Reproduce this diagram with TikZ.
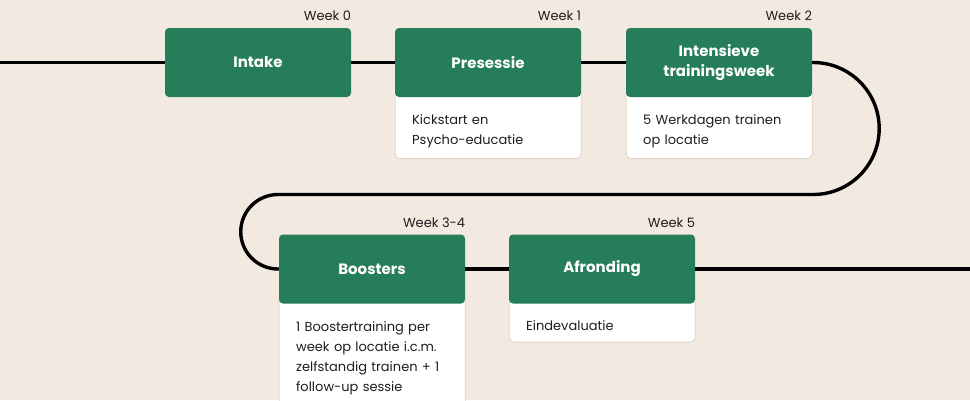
\documentclass[tikz,border=0pt]{standalone}
\usepackage{fontspec}
\setmainfont{Poppins}
\usetikzlibrary{backgrounds}
\definecolor{bg}{HTML}{F2E9E0}
\definecolor{grn}{HTML}{267D5A}
\definecolor{edgec}{HTML}{DDD4CB}
\definecolor{ink}{HTML}{1E1E1E}
\tikzset{
  phase/.style={fill=grn, rounded corners=4pt, minimum width=186pt, minimum height=69pt,
    text=white, font=\bfseries\fontsize{15}{20}\selectfont, align=center, inner sep=0pt},
  detail/.style={fill=white, draw=edgec, line width=0.8pt, rounded corners=5pt, anchor=north west,
    text width=152pt, inner xsep=17pt, inner ysep=0pt, align=left,
    font=\fontsize{13}{20}\selectfont, text=ink},
  week/.style={anchor=base east, font=\fontsize{13}{16}\selectfont, text=ink, inner sep=0pt},
  track/.style={line width=3.4pt, black}
}
\begin{document}
\begin{tikzpicture}[x=1pt, y=-1pt]
\useasboundingbox (0,0) rectangle (970,400);
% phases
\node[phase] (intake) at (258,62.5) {Intake};
\node[phase] (pres)   at (488,62.5) {Presessie};
\node[phase] (int)    at (719,62.5) {Intensieve\\trainingsweek};
\node[phase] (boost)  at (372,269) {Boosters};
\node[phase] (afr)    at (602,269) {Afronding};
% week labels
\node[week] (w0) at ([yshift=7pt]intake.north east) {Week 0};
\node[week] (w1) at ([yshift=7pt]pres.north east) {Week 1};
\node[week] (w2) at ([yshift=7pt]int.north east) {Week 2};
\node[week] (w34) at ([yshift=7pt]boost.north east) {Week 3-4};
\node[week] (w5) at ([yshift=7pt]afr.north east) {Week 5};
\coordinate (start) at (0,62.5);
\coordinate (finish) at (970,269);
\begin{scope}[on background layer]
  \fill[bg] (0,0) rectangle (970,400);
  \node[detail] (presd) at ([yshift=8pt]pres.south west)
    {\rule{0pt}{35pt}Kickstart en\\Psycho-educatie\rule[-14pt]{0pt}{14pt}};
  \node[detail] (intd) at ([yshift=8pt]int.south west)
    {\rule{0pt}{35pt}5 Werkdagen trainen\\op locatie\rule[-14pt]{0pt}{14pt}};
  \node[detail] (boostd) at ([yshift=8pt]boost.south west)
    {\rule{0pt}{35pt}1 Boostertraining per\\week op locatie i.c.m.\\zelfstandig trainen + 1\\follow-up sessie\rule[-22pt]{0pt}{22pt}};
  \node[detail] (afrd) at ([yshift=8pt]afr.south west)
    {\rule{0pt}{34pt}Eindevaluatie\rule[-12pt]{0pt}{12pt}};
  \draw[track] (start) -- (intake.west);
  \draw[track] (intake.east) -- (pres.west);
  \draw[track] (pres.east) -- (int.west);
  \draw[track] (int.east) -- ++(1,0) arc[start angle=-90, end angle=90, radius=66]
     -- (278,194.5) arc[start angle=-90, end angle=-270, radius=37.25] -- (boost.west);
  \draw[track] (boost.east) -- (afr.west);
  \draw[track] (afr.east) -- (finish);
\end{scope}
\end{tikzpicture}
\end{document}
